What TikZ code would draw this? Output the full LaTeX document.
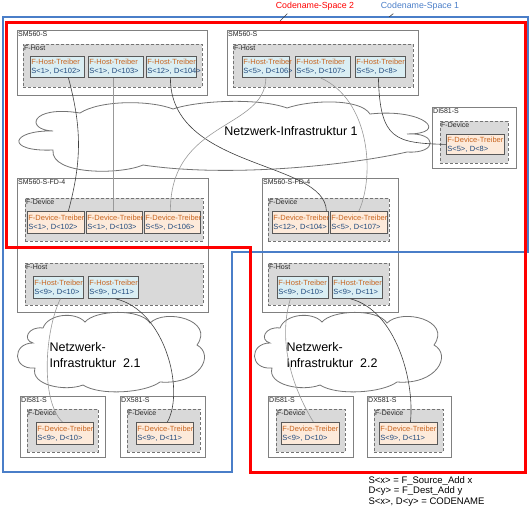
\documentclass[tikz,border=0pt]{standalone}
\usepackage{fontspec}
\setmainfont{Liberation Sans}
\usepackage{xcolor}
\definecolor{hostfill}{HTML}{DAEEF3}
\definecolor{devfill}{HTML}{FDEADA}
\definecolor{groupfill}{HTML}{D9D9D9}
\definecolor{spaceone}{HTML}{4A7EC8}
\definecolor{spacetwo}{HTML}{FF0000}
\definecolor{trname}{HTML}{C8641E}
\definecolor{trcode}{HTML}{1F497D}

\begin{document}
\begin{tikzpicture}[x=1pt,y=-1pt,
  station/.style={draw=black!50,fill=white,line width=0.8pt,anchor=north west,inner sep=0pt},
  fgroup/.style={draw=black!55,fill=groupfill,dash pattern=on 3pt off 2pt,line width=0.8pt,anchor=north west,inner sep=0pt},
  caption/.style={anchor=north west,inner sep=1pt,font=\fontsize{7}{8}\selectfont,text=black!85},
  treiber/.style={draw=black!65,line width=0.8pt,anchor=north west,inner sep=1pt,align=left,text=trcode,font=\fontsize{7.5}{9}\selectfont},
  hosttr/.style={treiber,fill=hostfill},
  devtr/.style={treiber,fill=devfill},
  netcloud/.style={draw=black!55,fill=white,line width=0.8pt},
  link/.style={draw=black!75,line width=0.6pt},
  faint/.style={draw=black!40,line width=0.6pt}]
\useasboundingbox (0,0) rectangle (532,509);

% stations
\foreach \n/\x/\y/\w/\h/\lbl in {sm1/17/30/190/65/SM560-S, sm2/227/30/191/65/SM560-S,
    di1/432/107/84/61/DI581-S, sm3/17/178/191/134/SM560-S-FD-4, sm4/262/178/136/134/SM560-S-FD-4,
    di2/20/396/85/61/DI581-S, dx2/120/396/85/61/DX581-S, di3/268/396/85/61/DI581-S, dx3/367/396/84/61/DX581-S}
  {\node[station,minimum width=\w pt,minimum height=\h pt] (\n) at (\x,\y) {};
   \node[caption] (\n-t) at (\n.north west) {\lbl};}

% F-Host / F-Device groups
\foreach \n/\x/\y/\w/\h/\lbl in {sm1h/23/44/179/43/F-Host, sm2h/233/44/180/43/F-Host,
    di1d/440/121/68/42/F-Device, sm3d/25/198/178/43/F-Device, sm3h/25/263/178/42/F-Host,
    sm4d/268/198/121/43/F-Device, sm4h/268/263/121/42/F-Host,
    di2d/27/409/71/43/F-Device, dx2d/127/409/73/43/F-Device, di3d/276/409/69/43/F-Device, dx3d/374/409/69/43/F-Device}
  {\node[fgroup,minimum width=\w pt,minimum height=\h pt] (\n) at (\x,\y) {};
   \node[caption] (\n-t) at (\n.north west) {\lbl};}

% Treiber
\foreach \n/\x/\y/\w/\h/\c in {tl1/30/56/52/21/{S<1>, D<102>}, tl2/88/56/53/21/{S<1>, D<103>},
    tl3/146/56/48/21/{S<12>, D<104>}, tr1/242/56/45/21/{S<5>, D<106>}, tr2/295/56/53/21/{S<5>, D<107>},
    tr3/355/56/48/21/{S<5>, D<8>}, mh1/33/276/48/22/{S<9>, D<10>}, mh2/88/276/48/22/{S<9>, D<11>},
    rh1/277/276/49/22/{S<9>, D<10>}, rh2/332/276/48/22/{S<9>, D<11>}}
  \node[hosttr,text width=\w pt,minimum height=\h pt] (\n) at (\x,\y) {\mbox{\textcolor{trname}{F-Host-Treiber}}\\\mbox{\c}};
\foreach \n/\x/\y/\w/\h/\c in {dtr/446/134/56/20/{S<5>, D<8>}, md1/27/211/55/22/{S<1>, D<102>},
    md2/86/211/54/22/{S<1>, D<103>}, md3/144/211/54/22/{S<5>, D<106>}, rd1/272/211/54/22/{S<12>, D<104>},
    rd2/330/211/55/22/{S<5>, D<107>}, bd1/36/422/55/22/{S<9>, D<10>}, bd2/136/422/55/22/{S<9>, D<11>},
    bd3/281/422/56/22/{S<9>, D<10>}, bd4/379/422/56/22/{S<9>, D<11>}}
  \node[devtr,text width=\w pt,minimum height=\h pt] (\n) at (\x,\y) {\mbox{\textcolor{trname}{F-Device-Treiber}}\\\mbox{\c}};

% clouds
\draw[netcloud] (80,113) .. controls (100,100) and (150,100) .. (173,109)
  .. controls (200,100) and (260,98) .. (287,108) .. controls (310,100) and (360,98) .. (370,114)
  .. controls (425,108) and (450,134) .. (407,134) .. controls (438,132) and (438,154) .. (407,152)
  .. controls (350,165) and (230,178) .. (143,165) .. controls (120,175) and (50,175) .. (53,150)
  .. controls (5,152) and (10,130) .. (53,131) .. controls (25,130) and (30,105) .. (80,113) -- cycle;
\node[font=\fontsize{12.5}{14}\selectfont] (net1) at (291,131) {Netzwerk-Infrastruktur 1};
\foreach \dx/\n/\lbl in {0/net21/2.1, 237/net22/2.2}
  {\begin{scope}[xshift=\dx pt]
   \draw[netcloud] (43,328) .. controls (48,314) and (75,311) .. (85,322)
     .. controls (95,310) and (140,308) .. (150,323) .. controls (165,308) and (215,320) .. (197,345)
     .. controls (215,355) and (200,385) .. (160,382) .. controls (145,393) and (100,396) .. (83,385)
     .. controls (65,392) and (30,385) .. (35,368) .. controls (12,370) and (12,343) .. (33,343)
     .. controls (22,340) and (28,326) .. (43,328) -- cycle;
   \node[anchor=west,align=left,font=\fontsize{12.5}{16.5}\selectfont] (\n) at (46,355) {Netzwerk-\\Infrastruktur\ \ \lbl};
   \end{scope}}

% links
\draw[link] ([xshift=11pt]tl1.south) to[bend left=15] ([xshift=12.5pt]md1.north);
\draw[faint] ([xshift=-2.5pt]tl2.south) -- ([xshift=-1pt]md2.north);
\draw[link] ([xshift=-1pt]tl3.south) .. controls (170,170) and (325,160) .. ([xshift=26pt]rd1.north);
\draw[faint] (tr1.south) .. controls (265,130) and (170,120) .. ([xshift=-2pt]md3.north);
\draw[faint] ([xshift=-2.5pt]tr2.south) .. controls (370,100) and (375,175) .. (rd2.north);
\draw[link] ([xshift=-2pt]tr3.south) .. controls (380,140) and (395,143) .. (dtr.west);
\draw[faint] ([xshift=2pt]mh1.south) .. controls (45,330) and (40,400) .. ([xshift=-2.5pt]bd1.north);
\draw[link] ([xshift=2pt]mh2.south) .. controls (165,310) and (185,390) .. ([xshift=2.5pt]bd2.north);
\draw[faint] ([xshift=-12.5pt]rh1.south) .. controls (275,350) and (300,400) .. ([xshift=3pt]bd3.north);
\draw[link] ([xshift=-7pt]rh2.south) .. controls (395,310) and (415,380) .. ([xshift=2pt]bd4.north);

% codename spaces
\draw[spaceone,line width=2.2pt] (3,17) -- (528,17) -- (528,252) -- (232,252) -- (232,472) -- (3,472) -- cycle;
\draw[spacetwo,line width=3pt] (6.5,22) -- (525,22) -- (525,472) -- (250,472) -- (250,247) -- (6.5,247) -- cycle;
\node[font=\fontsize{8.8}{10}\selectfont,text=spacetwo] (cs2) at (315,6) {Codename-Space 2};
\node[font=\fontsize{8.8}{10}\selectfont,text=spaceone] (cs1) at (420,6) {Codename-Space 1};
\coordinate (cs2end) at (280,21);
\coordinate (cs1end) at (389,17);
\draw[link] ([xshift=15pt]cs2.south west) -- (cs2end);
\draw[link] ([xshift=16pt]cs1.south west) -- (cs1end);

\node[anchor=west,align=left,font=\fontsize{9.5}{10.7}\selectfont] (legend) at (365,491.5)
  {S<x> = F\_Source\_Add x\\D<y> = F\_Dest\_Add y\\S<x>, D<y> = CODENAME};
\end{tikzpicture}
\end{document}
